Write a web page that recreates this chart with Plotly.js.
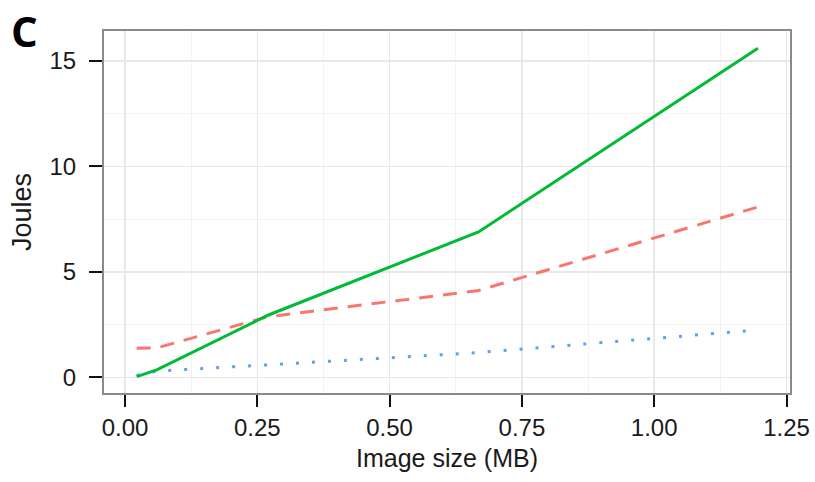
<!DOCTYPE html>
<html>
<head>
<meta charset="utf-8">
<script src="https://cdn.plot.ly/plotly-3.0.1.min.js"></script>
<style>html,body{margin:0;padding:0;background:#fff;}#chart{width:815px;height:482px;}</style>
</head>
<body>
<div id="chart"></div>
<script>
// Image size (MB)
const imageSize = [0.022, 0.06, 0.27, 0.668, 1.196];
// Joules for each of the three series
const greenSeries = [0.04, 0.36, 2.95, 6.9, 15.6];
const redSeries = [1.38, 1.4, 2.88, 4.12, 8.08];
const blueSeries = [0.1, 0.3, 0.6, 1.18, 2.25];

const xTickVals = [0, 0.25, 0.5, 0.75, 1.0, 1.25];
const xTickText = ["0.00", "0.25", "0.50", "0.75", "1.00", "1.25"];
const yTickVals = [0, 5, 10, 15];
const yTickText = ["0", "5", "10", "15"];

const font = "Liberation Sans, Arial, sans-serif";

const traces = [
  {x: imageSize, y: redSeries, mode: "lines", line: {color: "#F8766D", width: 3, dash: "14px,10px"}, hoverinfo: "none"},
  {x: imageSize, y: blueSeries, mode: "lines", line: {color: "#619CFF", width: 3, dash: "3px,13px"}, hoverinfo: "none"},
  {x: imageSize, y: greenSeries, mode: "lines", line: {color: "#00BA38", width: 3}, hoverinfo: "none"}
];

const layout = {
  width: 815, height: 482,
  margin: {l: 104, r: 25, t: 31, b: 89},
  paper_bgcolor: "#fff", plot_bgcolor: "#fff",
  showlegend: false,
  font: {family: font, color: "#1a1a1a", size: 24},
  xaxis: {
    range: [-0.0397, 1.2566],
    tickvals: xTickVals, ticktext: xTickText,
    ticks: "outside", ticklen: 12, tickwidth: 2, tickcolor: "#111",
    showline: true, mirror: true, linecolor: "#8a8a8a", linewidth: 2,
    showgrid: true, gridcolor: "#e8e8e8", gridwidth: 1.5,
    minor: {dtick: 0.125, tick0: 0.125, showgrid: true, gridcolor: "#f3f3f3", gridwidth: 1, ticks: ""},
    zeroline: false,
    tickfont: {size: 24, color: "#1a1a1a"},
    title: {text: "Image size (MB)", font: {size: 25, color: "#1a1a1a"}, standoff: 10}
  },
  yaxis: {
    range: [-0.735, 16.42],
    tickvals: yTickVals, ticktext: yTickText,
    ticks: "outside", ticklen: 13, tickwidth: 2, tickcolor: "#111",
    ticklabelstandoff: 8,
    showline: true, mirror: true, linecolor: "#8a8a8a", linewidth: 2,
    showgrid: true, gridcolor: "#e8e8e8", gridwidth: 1.5,
    minor: {dtick: 2.5, tick0: 2.5, showgrid: true, gridcolor: "#f3f3f3", gridwidth: 1, ticks: ""},
    zeroline: false,
    tickfont: {size: 24, color: "#1a1a1a"},
    title: {text: "Joules", font: {size: 27, color: "#1a1a1a"}, standoff: 10}
  },
  annotations: [
    {text: "<b>C</b>", xref: "paper", yref: "paper", x: -0.137, y: 1.084, xanchor: "left", yanchor: "top",
     borderpad: 0, showarrow: false, font: {family: "Open Sans, Liberation Sans, sans-serif", size: 42, color: "#000"}}
  ]
};

Plotly.newPlot("chart", traces, layout, {staticPlot: true, displayModeBar: false});
</script>
</body>
</html>
